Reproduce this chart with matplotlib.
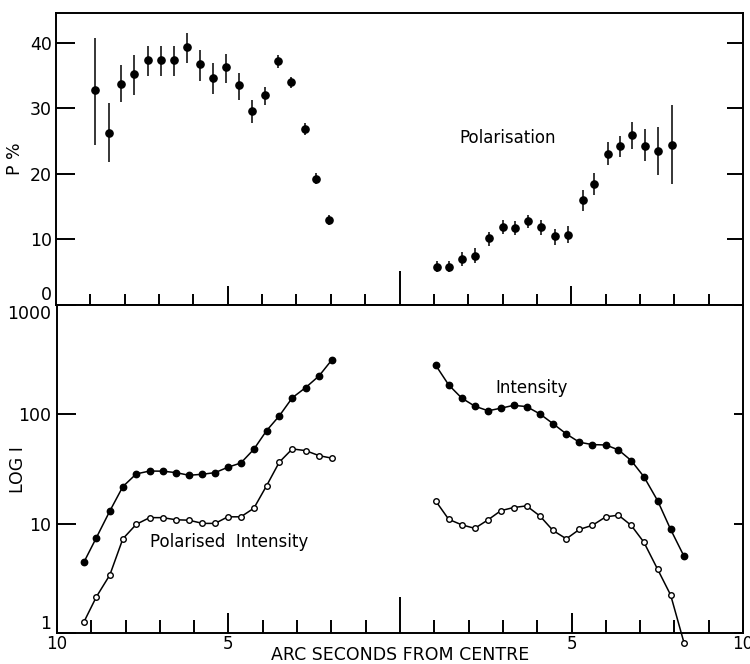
import numpy as np
import matplotlib.pyplot as plt

plt.rcParams['font.family'] = 'DejaVu Sans'

# --- polarisation (top panel), negative offsets = left side of centre
pol_x_w = [-8.87, -8.46, -8.10, -7.72, -7.33, -6.95, -6.57, -6.18, -5.80, -5.42,
           -5.04, -4.66, -4.28, -3.91, -3.53, -3.15, -2.76, -2.42, -2.04]
pol_w = [32.8, 26.3, 33.8, 35.2, 37.4, 37.4, 37.4, 39.4, 36.8, 34.6,
         36.4, 33.6, 29.6, 32.0, 37.3, 34.0, 26.8, 19.2, 12.9]
pol_hi_w = [40.7, 30.8, 36.6, 38.2, 39.5, 39.5, 39.5, 41.6, 39.0, 36.9,
            38.4, 35.4, 31.3, 33.3, 38.2, 34.8, 27.7, 20.1, 13.7]
pol_lo_w = [24.4, 21.8, 31.0, 32.0, 34.9, 35.0, 35.0, 36.9, 34.2, 32.2,
            33.9, 31.3, 27.7, 30.5, 36.2, 33.1, 26.0, 18.4, 12.1]

pol_x_e = [1.08, 1.45, 1.83, 2.21, 2.62, 3.00, 3.37, 3.75, 4.13, 4.52,
           4.90, 5.34, 5.67, 6.06, 6.43, 6.78, 7.16, 7.54, 7.93]
pol_e = [5.8, 5.8, 7.0, 7.4, 10.1, 11.9, 11.7, 12.7, 11.8, 10.5,
         10.7, 16.0, 18.5, 23.1, 24.3, 25.9, 24.3, 23.5, 24.4]
pol_hi_e = [6.7, 6.7, 8.1, 8.6, 11.1, 12.9, 12.8, 13.7, 12.9, 11.6,
            12.0, 17.5, 20.1, 24.8, 25.8, 27.9, 26.9, 27.1, 30.6]
pol_lo_e = [5.0, 5.0, 5.9, 6.3, 8.9, 10.8, 10.6, 11.7, 10.7, 9.1,
            9.4, 14.3, 16.7, 21.3, 22.6, 23.8, 21.9, 19.8, 18.4]

# --- intensity and polarised intensity (bottom panel)
int_x_w = [-9.21, -8.85, -8.46, -8.08, -7.69, -7.30, -6.92, -6.53, -6.15, -5.76,
           -5.39, -5.02, -4.64, -4.26, -3.89, -3.52, -3.14, -2.75, -2.36, -1.98]
int_w = [4.5, 7.5, 13.1, 21.9, 28.6, 30.4, 30.3, 29.4, 27.8, 28.4,
         29.4, 32.9, 36.0, 48.1, 71.1, 96.9, 142, 176, 225, 317]
pint_w = [1.28, 2.16, 3.41, 7.3, 9.9, 11.4, 11.4, 10.9, 10.8, 10.1,
          10.1, 11.6, 11.6, 13.9, 22.3, 36.6, 48.4, 46.7, 42.0, 39.8]

int_x_e = [1.04, 1.42, 1.80, 2.18, 2.57, 2.94, 3.31, 3.69, 4.08, 4.46,
           4.85, 5.23, 5.61, 6.00, 6.37, 6.74, 7.11, 7.51, 7.89, 8.28]
int_e = [282, 186, 141, 119, 108, 114, 121, 118, 101, 82.4,
         66.3, 55.7, 53.0, 52.6, 47.4, 37.9, 27.0, 16.3, 8.9, 5.06]
pint_e = [16.2, 11.0, 9.8, 9.1, 10.9, 13.2, 14.1, 14.6, 11.8, 8.7,
          7.3, 8.9, 9.7, 11.6, 12.0, 9.7, 6.8, 3.85, 2.24, 0.82]

x_ticks = list(range(-10, 11))
x_ticklabels = ['10' if abs(t) == 10 else '5' if abs(t) == 5 else '' for t in x_ticks]

W, H = 750, 664
fig = plt.figure(figsize=(W / 100, H / 100), dpi=100)
ax1 = fig.add_axes([56 / W, 359.5 / H, 687 / W, 291.5 / H])
ax2 = fig.add_axes([57 / W, 30.7 / H, 686 / W, 328.3 / H])

PX = 0.72  # points per pixel at dpi 100
lw = 1.4

for ax in (ax1, ax2):
    for s in ax.spines.values():
        s.set_linewidth(lw)
    ax.set_xlim(-10, 10)

# ---------- top panel
for xs, p, hi, lo in [(pol_x_w, pol_w, pol_hi_w, pol_lo_w),
                      (pol_x_e, pol_e, pol_hi_e, pol_lo_e)]:
    p = np.array(p)
    yerr = [p - np.array(lo), np.array(hi) - p]
    ax1.errorbar(xs, p, yerr=yerr, fmt='o', color='black', ms=5.2,
                 elinewidth=1.1, capsize=0)

ax1.set_ylim(0, 44.6)
ax1.set_yticks([0, 10, 20, 30, 40])
ax1.set_yticklabels(['0', '10', '20', '30', '40'], fontsize=12.5)
ax1.set_xticks(range(-9, 10))
ax1.set_xticklabels([])
ax1.tick_params(axis='both', direction='in', width=lw, top=False, right=True)
ax1.tick_params(axis='x', length=11 * PX)
ax1.tick_params(axis='y', length=19 * PX, pad=3)
for t in ax1.yaxis.get_major_ticks():
    t.tick2line.set_markersize(16 * PX)
ax1.get_yticklabels()[0].set_verticalalignment('bottom')
xt1 = ax1.xaxis.get_major_ticks()
for i, v in enumerate(range(-9, 10)):
    if v == 0:
        xt1[i].tick1line.set_markersize(34 * PX)
    elif abs(v) == 5:
        xt1[i].tick1line.set_markersize(19 * PX)
ax1.set_ylabel('P %', fontsize=12.5)
ax1.yaxis.set_label_coords(-0.047, 0.5)
ax1.text(3.15, 25.5, 'Polarisation', fontsize=12, ha='center', va='center')

# ---------- bottom panel
for xs, i_vals, pi_vals in [(int_x_w, int_w, pint_w), (int_x_e, int_e, pint_e)]:
    ax2.plot(xs, i_vals, '-o', color='black', lw=1.1, ms=4.6, clip_on=False)
    ax2.plot(xs, pi_vals, '-o', color='black', lw=1.1, ms=4.0,
             mfc='white', mew=1.0, clip_on=False)

ax2.set_yscale('log')
ax2.set_ylim(1, 1000)
ax2.set_yticks([1, 10, 100, 1000])
ax2.set_yticklabels(['1', '10', '100', '1000'], fontsize=12.5)
ax2.minorticks_off()
ax2.set_xticks(x_ticks)
ax2.set_xticklabels(x_ticklabels, fontsize=12)
ax2.tick_params(axis='both', direction='in', width=lw, top=False, right=True)
ax2.tick_params(axis='x', length=13 * PX, pad=1)
ax2.tick_params(axis='y', length=19 * PX, pad=4)
for t in ax2.yaxis.get_major_ticks():
    t.tick2line.set_markersize(9 * PX)
ylabs = ax2.get_yticklabels()
ylabs[0].set_verticalalignment('bottom')
ylabs[-1].set_verticalalignment('top')
xt2 = ax2.xaxis.get_major_ticks()
for i, v in enumerate(x_ticks):
    if v == 0:
        xt2[i].tick1line.set_markersize(36 * PX)
    elif abs(v) == 5:
        xt2[i].tick1line.set_markersize(20 * PX)
ax2.set_ylabel('LOG I', fontsize=12.5)
ax2.yaxis.set_label_coords(-0.044, 0.5)
fig.text(400 / W, 1 - 655 / H, 'ARC SECONDS FROM CENTRE', fontsize=12.5,
         ha='center', va='center')
ax2.text(3.85, 175, 'Intensity', fontsize=12, ha='center', va='center')
ax2.text(-4.99, 6.8, 'Polarised  Intensity', fontsize=12, ha='center', va='center')

fig.savefig('out.png', dpi=100, facecolor='white')
